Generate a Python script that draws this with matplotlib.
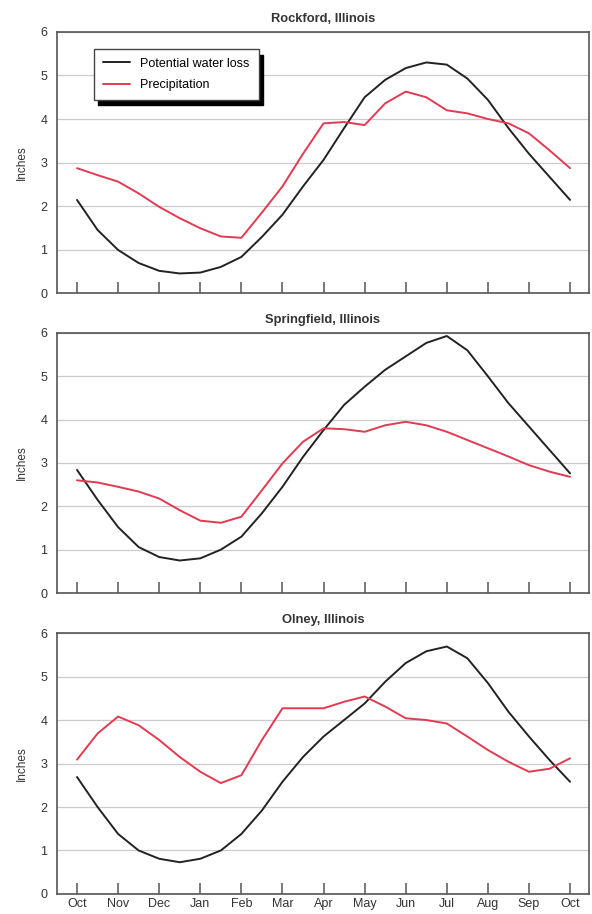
import matplotlib
matplotlib.use("Agg")
import matplotlib.pyplot as plt
import numpy as np

# half-month steps from Oct to the next Oct
months = ["Oct", "Nov", "Dec", "Jan", "Feb", "Mar", "Apr", "May", "Jun",
          "Jul", "Aug", "Sep", "Oct"]
steps = np.arange(0, 12.01, 0.5)

rockford_loss = [2.14, 1.45, 0.99, 0.69, 0.51, 0.45, 0.47, 0.60, 0.83, 1.29,
                 1.80, 2.45, 3.06, 3.79, 4.50, 4.90, 5.17, 5.30, 5.25, 4.93,
                 4.44, 3.79, 3.20, 2.67, 2.14]
rockford_precip = [2.87, 2.71, 2.56, 2.29, 1.98, 1.72, 1.49, 1.30, 1.27, 1.85,
                   2.45, 3.20, 3.90, 3.93, 3.86, 4.36, 4.63, 4.50, 4.20, 4.13,
                   4.00, 3.90, 3.67, 3.28, 2.87]

springfield_loss = [2.84, 2.15, 1.52, 1.06, 0.83, 0.75, 0.80, 1.00, 1.30, 1.84,
                    2.45, 3.14, 3.76, 4.34, 4.76, 5.15, 5.46, 5.77, 5.93, 5.60,
                    5.00, 4.38, 3.84, 3.30, 2.76]
springfield_precip = [2.60, 2.55, 2.45, 2.34, 2.18, 1.91, 1.67, 1.62, 1.76, 2.37,
                      2.99, 3.49, 3.80, 3.78, 3.72, 3.87, 3.95, 3.87, 3.72, 3.53,
                      3.34, 3.15, 2.95, 2.80, 2.68]

olney_loss = [2.69, 2.00, 1.38, 1.00, 0.81, 0.73, 0.81, 1.00, 1.38, 1.92,
              2.58, 3.15, 3.62, 4.00, 4.38, 4.88, 5.31, 5.58, 5.69, 5.42,
              4.85, 4.19, 3.62, 3.08, 2.58]
olney_precip = [3.09, 3.69, 4.08, 3.88, 3.54, 3.15, 2.81, 2.55, 2.73, 3.54,
                4.27, 4.27, 4.27, 4.42, 4.54, 4.31, 4.04, 4.00, 3.92, 3.62,
                3.31, 3.04, 2.81, 2.88, 3.12]

panels = [
    ("Rockford, Illinois", rockford_loss, rockford_precip),
    ("Springfield, Illinois", springfield_loss, springfield_precip),
    ("Olney, Illinois", olney_loss, olney_precip),
]

black = "#222222"
red = "#e23a52"
frame = "#555555"

fig = plt.figure(figsize=(5.92, 9.14), dpi=100)
plt.rcParams['font.family'] = ['Liberation Sans', 'DejaVu Sans']

boxes = [(0.0963, 0.6794, 0.8986, 0.2856),
         (0.0963, 0.3512, 0.8986, 0.2845),
         (0.0963, 0.0219, 0.8986, 0.2855)]

for i, ((title, loss, precip), box) in enumerate(zip(panels, boxes)):
    ax = fig.add_axes(box)
    ax.plot(steps, loss, color=black, lw=1.4, label="Potential water loss",
            solid_capstyle="round", solid_joinstyle="round", zorder=3)
    ax.plot(steps, precip, color=red, lw=1.4, label="Precipitation",
            solid_capstyle="round", solid_joinstyle="round", zorder=3)
    ax.set_xlim(-0.487, 12.46)
    ax.set_ylim(0, 6)
    ax.set_yticks(range(7))
    ax.set_xticks(range(13))
    ax.yaxis.grid(True, color="#cccccc", lw=0.9)
    ax.set_axisbelow(True)
    ax.tick_params(axis="y", length=0, labelsize=9, colors="#333333", pad=7)
    ax.tick_params(axis="x", direction="in", length=8, width=1.1,
                   color=frame, labelsize=9, labelcolor="#333333", pad=3)
    if i == 2:
        ax.set_xticklabels(months)
    else:
        ax.set_xticklabels([])
    for s in ax.spines.values():
        s.set_color(frame)
        s.set_linewidth(1.2)
    ax.set_ylabel("Inches", fontsize=8.5, color="#333333", labelpad=9)
    ax.set_title(title, fontsize=9.3, fontweight="bold", color="#333333", pad=7)
    if i == 0:
        leg = ax.legend(loc="upper left", bbox_to_anchor=(0.07, 0.935),
                        borderaxespad=0, fontsize=9, frameon=True, fancybox=False,
                        shadow={"color": "black", "alpha": 1.0, "ox": 3, "oy": -4},
                        edgecolor="#444444", framealpha=1, handlelength=2.2,
                        borderpad=0.7, labelspacing=0.75, handletextpad=0.8)
        leg.get_frame().set_linewidth(1.0)

fig.savefig("out.png", dpi=100)
